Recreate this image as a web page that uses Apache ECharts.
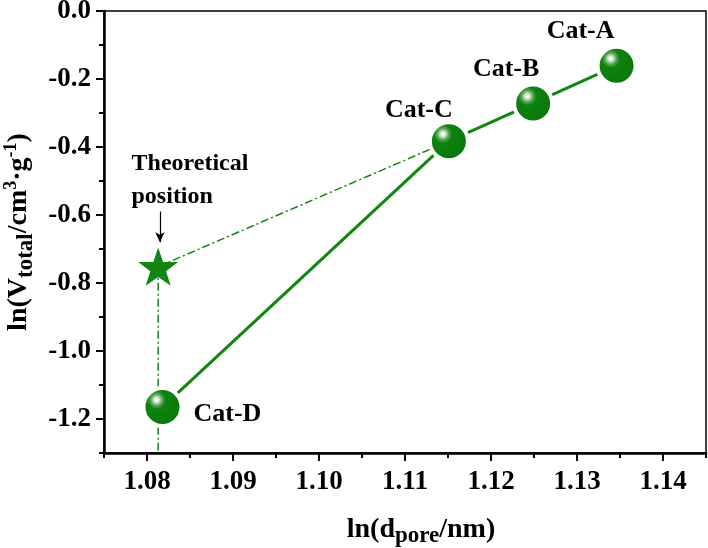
<!DOCTYPE html>
<html>
<head>
<meta charset="utf-8">
<script src="https://cdn.jsdelivr.net/npm/echarts@6/dist/echarts.min.js"></script>
<style>html,body{margin:0;padding:0;background:#fff;}#c{width:708px;height:548px;}</style>
</head>
<body>
<div id="c"></div>
<script>
// ---- data ----
const catNames = ['Cat-D', 'Cat-C', 'Cat-B', 'Cat-A'];
const lnDpore = [1.0818, 1.1151, 1.1249, 1.1346];
const lnVtotal = [-1.165, -0.383, -0.272, -0.161];
const theoX = [1.0813];
const theoY = [-0.752];
const xTicks = [1.08, 1.09, 1.10, 1.11, 1.12, 1.13, 1.14];
const yTicks = [-1.2, -1.0, -0.8, -0.6, -0.4, -0.2, 0.0];
const xRange = [1.075, 1.145];
const yRange = [-1.3, 0];
const annoText = 'Theoretical\nposition';
const annoPos = [1.0782, -0.40];
const arrowFrom = [1.0815, -0.59];
const arrowTo = [1.0815, -0.68];

// ---- styles ----
const FONT = 'Liberation Serif';
const GREEN = '#118611';
const sphere = {
  type: 'radial', x: 0.36, y: 0.33, r: 0.72,
  colorStops: [
    { offset: 0, color: '#ffffff' },
    { offset: 0.08, color: '#d8ecd8' },
    { offset: 0.18, color: '#5faa5f' },
    { offset: 0.3, color: '#0e820e' },
    { offset: 0.85, color: '#0a780a' },
    { offset: 1, color: '#066206' }
  ]
};
const labelOffsets = [
  { position: 'right', distance: 10, offset: [0, 7] },
  { position: 'top', distance: 0, offset: [-30, 3] },
  { position: 'top', distance: 0, offset: [-27, 0] },
  { position: 'top', distance: 0, offset: [-36, 0] }
];

const catData = catNames.map((n, i) => ({
  name: n,
  value: [lnDpore[i], lnVtotal[i]],
  label: Object.assign({ show: true, formatter: n }, labelOffsets[i])
}));

const starPath = 'path://M50,2 L61.5,36 L97,36 L68.5,57.5 L79.5,92 L50,71 L20.5,92 L31.5,57.5 L3,36 L38.5,36 Z';

const chart = echarts.init(document.getElementById('c'), null, { renderer: 'canvas' });
const gridBox = { left: 104, top: 11, right: 2, bottom: 95 };
chart.setOption({
  animation: false,
  backgroundColor: '#fff',
  grid: Object.assign({ show: true, borderColor: '#000', borderWidth: 1.5, backgroundColor: 'transparent', containLabel: false, outerBoundsMode: 'none' }, gridBox),
  xAxis: [{
    type: 'value', min: xRange[0], max: xRange[1], gridIndex: 0,
    splitLine: { show: false },
    axisLine: { show: true, onZero: false, lineStyle: { color: '#000', width: 2.5 } },
    axisTick: { show: true, length: 8, lineStyle: { width: 2, color: '#000' }, customValues: xTicks },
    axisLabel: { customValues: xTicks, formatter: v => v.toFixed(2), fontFamily: FONT, fontWeight: 'bold', fontSize: 27, color: '#000', margin: 16 },
    name: '{a|ln(d}{b|pore}{a|/nm)}',
    nameLocation: 'middle', nameGap: 58,
    nameTextStyle: {
      padding: [0, 0, 0, 32],
      rich: {
        a: { fontFamily: FONT, fontWeight: 'bold', fontSize: 28, color: '#000' },
        b: { fontFamily: FONT, fontWeight: 'bold', fontSize: 23, color: '#000', padding: [14, 0, 0, 0] }
      }
    }
  }, {
    type: 'value', min: xRange[0], max: xRange[1], gridIndex: 0, position: 'bottom',
    interval: 0.005,
    splitLine: { show: false },
    axisLine: { show: false, onZero: false },
    axisTick: { show: true, length: 5, lineStyle: { width: 2, color: '#000' } },
    axisLabel: { show: false }
  }],
  yAxis: [{
    type: 'value', min: yRange[0], max: yRange[1],
    splitLine: { show: false },
    axisLine: { show: true, onZero: false, lineStyle: { color: '#000', width: 2.5 } },
    axisTick: { show: true, length: 8, lineStyle: { width: 2, color: '#000' }, customValues: yTicks },
    axisLabel: { customValues: yTicks, formatter: v => v.toFixed(1), fontFamily: FONT, fontWeight: 'bold', fontSize: 27, color: '#000', margin: 13 },
    name: '{a|ln(V}{b|total}{a|/cm}{c|3}{a|·g}{c|-1}{a|)}',
    nameLocation: 'middle', nameGap: 63, nameRotate: 90,
    nameTextStyle: {
      rich: {
        a: { fontFamily: FONT, fontWeight: 'bold', fontSize: 28, color: '#000' },
        b: { fontFamily: FONT, fontWeight: 'bold', fontSize: 23, color: '#000', padding: [14, 0, 0, 0] },
        c: { fontFamily: FONT, fontWeight: 'bold', fontSize: 18, color: '#000', padding: [0, 0, 16, 0] }
      }
    }
  }, {
    type: 'value', min: yRange[0], max: yRange[1], position: 'left',
    interval: 0.1,
    splitLine: { show: false },
    axisLine: { show: false, onZero: false },
    axisTick: { show: true, length: 5, lineStyle: { width: 2, color: '#000' } },
    axisLabel: { show: false }
  }],
  series: [
    {
      type: 'line', showSymbol: false, silent: true, z: 2,
      data: [[theoX[0], theoY[0]], [lnDpore[1], lnVtotal[1]]],
      lineStyle: { color: GREEN, width: 1.5, type: [8, 3, 2, 3] }
    },
    {
      type: 'line', showSymbol: false, silent: true, z: 2,
      data: [[theoX[0], theoY[0]], [theoX[0], yRange[0]]],
      lineStyle: { color: GREEN, width: 1.5, type: [8, 3, 2, 3] }
    },
    {
      type: 'line', z: 3,
      data: catData,
      symbol: 'circle', symbolSize: 38,
      lineStyle: { color: GREEN, width: 3 },
      itemStyle: { color: sphere, borderColor: '#fff', borderWidth: 4 },
      label: { fontFamily: FONT, fontWeight: 'bold', fontSize: 26, color: '#000' }
    },
    {
      type: 'scatter', z: 4,
      data: [[theoX[0], theoY[0]]],
      symbol: starPath, symbolSize: 40, symbolKeepAspect: true,
      itemStyle: { color: '#128612', opacity: 1 }
    },
    {
      type: 'scatter', z: 5, silent: true,
      data: [annoPos],
      symbolSize: 0,
      itemStyle: { opacity: 1 },
      label: {
        show: true, formatter: annoText, position: [0, 0], align: 'left', verticalAlign: 'top',
        fontFamily: FONT, fontWeight: 'bold', fontSize: 24, lineHeight: 33, color: '#000'
      },
      markLine: {
        silent: true, symbol: ['none', 'arrow'], symbolSize: [7, 10],
        label: { show: false },
        lineStyle: { color: '#000', width: 1.2, type: 'solid' },
        data: [[{ coord: arrowFrom }, { coord: arrowTo }]]
      }
    }
  ]
});
</script>
</body>
</html>
